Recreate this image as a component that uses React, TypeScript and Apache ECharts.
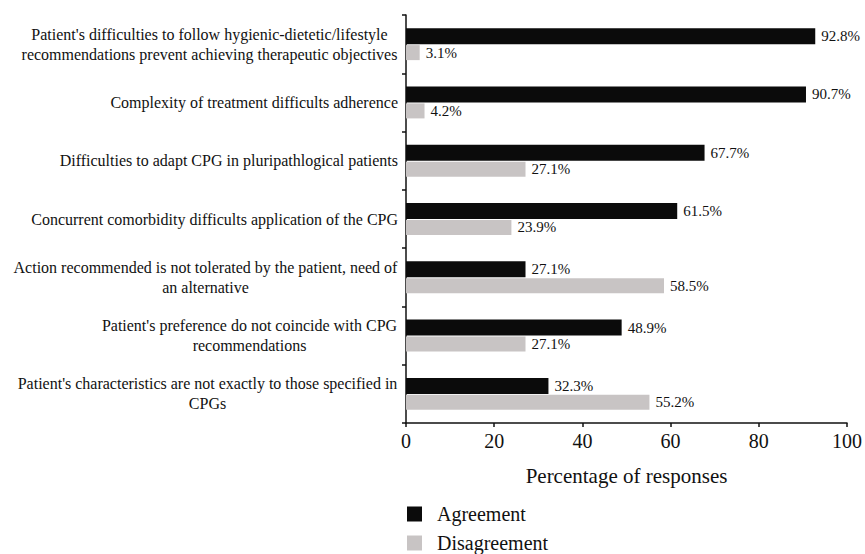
import React, { useEffect, useRef } from "react";
import * as echarts from "echarts";

const categories: string[] = [
  "Patient's difficulties to follow hygienic-dietetic/lifestyle\nrecommendations prevent achieving therapeutic objectives",
  "Complexity of treatment difficults adherence",
  "Difficulties to adapt CPG in pluripathlogical patients",
  "Concurrent comorbidity difficults application of the CPG",
  "Action recommended is not tolerated by the patient, need of\nan alternative",
  "Patient's preference do not coincide with CPG\nrecommendations",
  "Patient's characteristics are not exactly to those specified in\nCPGs",
];
const agreement: number[] = [92.8, 90.7, 67.7, 61.5, 27.1, 48.9, 32.3];
const disagreement: number[] = [3.1, 4.2, 27.1, 23.9, 58.5, 27.1, 55.2];
const xTicks: number[] = [0, 20, 40, 60, 80, 100];

const FONT = "'Liberation Serif', 'DejaVu Serif', serif";
const CAT_SIZE = 16;

function measure(text: string, size: number): number {
  const c = document.createElement("canvas");
  const ctx = c.getContext("2d");
  if (!ctx) return text.length * size * 0.45;
  ctx.font = `${size}px ${FONT}`;
  return ctx.measureText(text).width;
}

export default function App() {
  const ref = useRef<HTMLDivElement>(null);
  useEffect(() => {
    if (!ref.current) return;
    const chart = echarts.init(ref.current, null, { renderer: "svg" });
    const rich: Record<string, any> = {};
    categories.forEach((c, i) => {
      const lines = c.split("\n");
      const w = Math.max(...lines.map((l) => measure(l, CAT_SIZE)));
      rich["l" + i] = {
        width: Math.ceil(w) + 1,
        align: "center",
        fontFamily: FONT,
        fontSize: CAT_SIZE,
        color: "#111",
        lineHeight: 20,
      };
    });
    const labelFmt = (p: any) => `${Number(p.value).toFixed(1)}%`;
    chart.setOption({
      animation: false,
      textStyle: { fontFamily: FONT },
      grid: { left: 406, right: 18, top: 15, bottom: 131, containLabel: false },
      legend: {
        orient: "vertical",
        left: 407,
        top: 504,
        padding: 0,
        itemWidth: 15,
        itemHeight: 15,
        itemGap: 9,
        icon: "rect",
        textStyle: { fontFamily: FONT, fontSize: 20, lineHeight: 19, color: "#111", padding: [0, 0, 0, 10] },
        data: ["Agreement", "Disagreement"],
      },
      xAxis: {
        type: "value",
        min: xTicks[0],
        max: xTicks[xTicks.length - 1],
        interval: 20,
        name: "Percentage of responses",
        nameLocation: "middle",
        nameGap: 42,
        nameTextStyle: { fontFamily: FONT, fontSize: 21, color: "#111" },
        axisLine: { show: true, lineStyle: { color: "#111", width: 1.5 } },
        axisTick: { show: true, length: 4, lineStyle: { color: "#111", width: 1.5 } },
        axisLabel: { fontFamily: FONT, fontSize: 20, color: "#111", margin: 8 },
        splitLine: { show: false },
      },
      yAxis: {
        type: "category",
        inverse: true,
        data: categories,
        axisLine: { show: true, lineStyle: { color: "#111", width: 1.5 } },
        axisTick: { show: true, length: 4, lineStyle: { color: "#111", width: 1.5 } },
        axisLabel: {
          margin: 8,
          formatter: (v: string, i: number) => {
            if (v.indexOf("\n") >= 0) return `{l${i}|${v}}`;
            return v;
          },
          rich,
          fontFamily: FONT,
          fontSize: CAT_SIZE,
          color: "#111",
          lineHeight: 20,
        },
      },
      series: [
        {
          name: "Agreement",
          type: "bar",
          data: agreement,
          barWidth: 16,
          barGap: "6%",
          itemStyle: { color: "#0b0b0b" },
          label: {
            show: true,
            position: "right",
            distance: 6,
            formatter: labelFmt,
            fontFamily: FONT,
            fontSize: 15,
            color: "#111",
          },
        },
        {
          name: "Disagreement",
          type: "bar",
          data: disagreement,
          barWidth: 15,
          itemStyle: { color: "#c8c4c4" },
          label: {
            show: true,
            position: "right",
            distance: 6,
            formatter: labelFmt,
            fontFamily: FONT,
            fontSize: 15,
            color: "#111",
          },
        },
      ],
    });
    return () => chart.dispose();
  }, []);
  return (
    <div
      ref={ref}
      style={{ position: "fixed", left: 0, top: 0, width: 865, height: 554, background: "#fff" }}
    />
  );
}
